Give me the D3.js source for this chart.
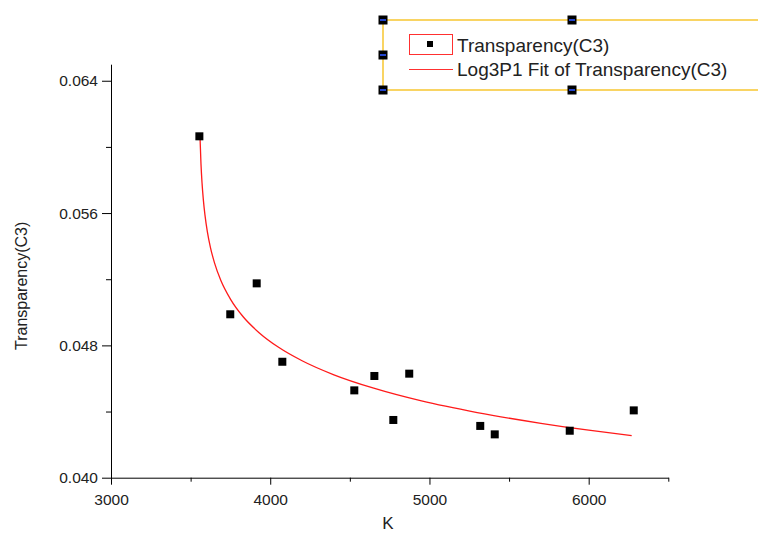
<!DOCTYPE html>
<html>
<head>
<meta charset="utf-8">
<script src="https://cdn.jsdelivr.net/npm/d3@7"></script>
<style>
  body { margin: 0; background: #fff; }
  text { font-family: "Liberation Sans", Arial, sans-serif; }
</style>
</head>
<body>
<div id="chart"></div>
<script>
var width = 758, height = 533;

// measured points (K, transparency)
var kValues = [3555, 3749, 3915, 4076, 4528, 4654, 4773, 4873, 5319, 5410, 5881, 6283];
var transValues = [0.06064, 0.04988, 0.05175, 0.04701, 0.04528, 0.04615, 0.04349, 0.04629, 0.04313, 0.04262, 0.04284, 0.04407];

// fit curve
var fitK = [3559, 3565, 3572, 3580, 3590, 3605, 3625, 3650, 3690, 3750, 3830, 3930, 4050, 4200, 4400, 4650, 4950, 5300, 5700, 6000, 6270];
var fitT = [0.06060, 0.05899, 0.05778, 0.05680, 0.05589, 0.05488, 0.05390, 0.05299, 0.05192, 0.05080, 0.04973, 0.04877, 0.04790, 0.04707, 0.04622, 0.04541, 0.04464, 0.04394, 0.04329, 0.04287, 0.04254];

var xMajor = [3000, 4000, 5000, 6000];
var xMinor = [3500, 4500, 5500, 6500];
var yMajor = [0.040, 0.048, 0.056, 0.064];
var yMinor = [0.044, 0.052, 0.060];

var legendLabels = ["Transparency(C3)", "Log3P1 Fit of Transparency(C3)"];

var svg = d3.select("#chart")
  .append("svg")
  .attr("width", width)
  .attr("height", height);

var x = d3.scaleLinear().domain([3000, 6500]).range([111, 668.3]);
var y = d3.scaleLinear().domain([0.040, 0.065]).range([477.7, 64.2]);

// y axis
svg.append("g")
  .attr("transform", "translate(" + x(3000) + ",0)")
  .call(d3.axisLeft(y).tickValues(yMajor).tickSize(9).tickSizeOuter(0)
    .tickFormat(d3.format(".3f")))
  .call(function(g){
    g.select(".domain").attr("stroke", "#000");
    g.selectAll("text").attr("font-size", 15.5).attr("fill", "#222").attr("dx", -1);
  });
svg.append("g")
  .attr("transform", "translate(" + x(3000) + ",0)")
  .call(d3.axisLeft(y).tickValues(yMinor).tickSize(5).tickFormat(""))
  .call(function(g){ g.select(".domain").remove(); });

// x axis
svg.append("g")
  .attr("transform", "translate(0," + y(0.040) + ")")
  .call(d3.axisBottom(x).tickValues(xMajor).tickSize(7).tickSizeOuter(0)
    .tickFormat(d3.format("d")))
  .call(function(g){
    g.select(".domain").attr("stroke", "#000");
    g.selectAll("text").attr("font-size", 15.5).attr("fill", "#222").attr("dy", "1.1em");
  });
svg.append("g")
  .attr("transform", "translate(0," + y(0.040) + ")")
  .call(d3.axisBottom(x).tickValues(xMinor).tickSize(4).tickFormat(""))
  .call(function(g){ g.select(".domain").remove(); });

// axis titles
svg.append("text")
  .attr("x", 388)
  .attr("y", 529)
  .attr("text-anchor", "middle")
  .attr("font-size", 17)
  .attr("fill", "#222")
  .text("K");

svg.append("text")
  .attr("transform", "translate(27," + y(0.0516) + ") rotate(-90)")
  .attr("text-anchor", "middle")
  .attr("font-size", 16)
  .attr("fill", "#222")
  .text("Transparency(C3)");

// fit line
var fitData = fitK.map(function(k, i){ return {k: k, t: fitT[i]}; });
svg.append("path")
  .datum(fitData)
  .attr("fill", "none")
  .attr("stroke", "#ff1a1a")
  .attr("stroke-width", 1.3)
  .attr("d", d3.line()
    .x(function(d){ return x(d.k); })
    .y(function(d){ return y(d.t); })
    .curve(d3.curveMonotoneX));

// points
var pts = kValues.map(function(k, i){ return {k: k, t: transValues[i]}; });
svg.selectAll("rect.pt")
  .data(pts)
  .enter().append("rect")
  .attr("class", "pt")
  .attr("x", function(d){ return x(d.k) - 4; })
  .attr("y", function(d){ return y(d.t) - 4; })
  .attr("width", 8)
  .attr("height", 8)
  .attr("fill", "#000");

// legend (selected frame)
var lg = svg.append("g");
var gold = "#f7c62f";
lg.append("line").attr("x1", 383).attr("y1", 20).attr("x2", 758).attr("y2", 20)
  .attr("stroke", gold).attr("stroke-width", 1.5);
lg.append("line").attr("x1", 383).attr("y1", 90).attr("x2", 758).attr("y2", 90)
  .attr("stroke", gold).attr("stroke-width", 1.5);
lg.append("line").attr("x1", 383).attr("y1", 20).attr("x2", 383).attr("y2", 90)
  .attr("stroke", gold).attr("stroke-width", 1.5);

var handles = [[383, 20], [572, 20], [383, 55], [383, 90], [572, 90]];
handles.forEach(function(h){
  lg.append("rect").attr("x", h[0] - 4.5).attr("y", h[1] - 4.5)
    .attr("width", 9).attr("height", 9).attr("fill", "#000");
  lg.append("rect").attr("x", h[0] - 3).attr("y", h[1] - 1)
    .attr("width", 6).attr("height", 2).attr("fill", "#2244cc");
});

lg.append("rect").attr("x", 409.5).attr("y", 34.5).attr("width", 43).attr("height", 20)
  .attr("fill", "none").attr("stroke", "#ff3030").attr("stroke-width", 1);
lg.append("rect").attr("x", 427).attr("y", 41).attr("width", 6).attr("height", 6).attr("fill", "#000");
lg.append("line").attr("x1", 409).attr("y1", 69.5).attr("x2", 453).attr("y2", 69.5)
  .attr("stroke", "#ff3030").attr("stroke-width", 1.2);

lg.selectAll("text.lg")
  .data(legendLabels)
  .enter().append("text")
  .attr("class", "lg")
  .attr("x", 457)
  .attr("y", function(d, i){ return 51.5 + i * 24; })
  .attr("font-size", 19)
  .attr("fill", "#222")
  .text(function(d){ return d; });
</script>
</body>
</html>
